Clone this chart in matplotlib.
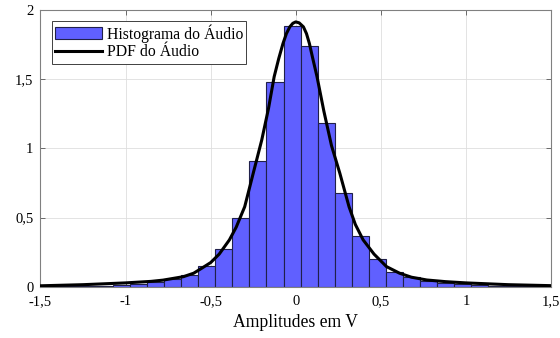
import numpy as np
import matplotlib
matplotlib.use('Agg')
import matplotlib.pyplot as plt
from matplotlib.ticker import FuncFormatter

plt.rcParams['font.family'] = ['Liberation Serif', 'DejaVu Serif']

# histogram bins (centers, width 0.1 V) and densities
bin_centers = [-1.422, -1.322, -1.222, -1.122, -1.022, -0.922, -0.822, -0.722,
               -0.622, -0.522, -0.422, -0.322, -0.222, -0.122, -0.022, 0.078,
               0.178, 0.278, 0.378, 0.478, 0.578, 0.678, 0.778, 0.878, 0.978,
               1.078, 1.178, 1.278, 1.378, 1.478]
bin_heights = [0.002, 0.003, 0.004, 0.006, 0.010, 0.019, 0.032, 0.053,
               0.085, 0.148, 0.270, 0.499, 0.909, 1.483, 1.887, 1.737,
               1.183, 0.677, 0.364, 0.197, 0.108, 0.067, 0.042, 0.027, 0.016,
               0.010, 0.007, 0.005, 0.003, 0.002]
bin_width = 0.1

# PDF curve points
pdf_x = [-1.5, -1.25, -1.0, -0.85, -0.78, -0.66, -0.6, -0.55, -0.5, -0.45,
         -0.39, -0.35, -0.30, -0.25, -0.20, -0.16, -0.127, -0.10, -0.075,
         -0.055, -0.035, -0.017, 0.0, 0.02, 0.045, 0.063, 0.08, 0.10, 0.125,
         0.165, 0.21, 0.259, 0.313, 0.35, 0.396, 0.46, 0.533, 0.61, 0.68,
         0.77, 0.88, 1.0, 1.25, 1.5]
pdf_y = [0.006, 0.014, 0.027, 0.038, 0.047, 0.072, 0.097, 0.135, 0.174, 0.235,
         0.338, 0.43, 0.578, 0.82, 1.06, 1.29, 1.518, 1.65, 1.759,
         1.83, 1.879, 1.905, 1.915, 1.908, 1.879, 1.83, 1.759, 1.65, 1.518,
         1.27, 1.02, 0.82, 0.578, 0.45, 0.338, 0.235, 0.145, 0.097, 0.068,
         0.048, 0.036, 0.027, 0.014, 0.007]

fig = plt.figure(figsize=(5.6, 3.38), dpi=100)
ax = fig.add_axes([0.0723, 0.152, 0.9117, 0.818])

bars = ax.bar(bin_centers, bin_heights, width=bin_width, color='#6060ff',
              edgecolor='#20204a', linewidth=0.8, zorder=2)
line, = ax.plot(pdf_x, pdf_y, color='black', linewidth=2.2, zorder=3)

ax.set_xlim(-1.5, 1.5)
ax.set_ylim(0, 2)
ax.set_xticks([-1.5, -1, -0.5, 0, 0.5, 1, 1.5])
ax.set_yticks([0, 0.5, 1, 1.5, 2])
fmt = FuncFormatter(lambda v, p: ('%g' % v).replace('.', ','))
ax.xaxis.set_major_formatter(fmt)
ax.yaxis.set_major_formatter(fmt)

ax.grid(True, color='#dedede', linewidth=0.6, zorder=0)
ax.set_axisbelow(True)
ax.tick_params(direction='in', length=3.5, width=0.6, color='#555555',
               top=True, right=True, labelsize=10.5, pad=5)
ax.tick_params(axis='x', pad=6)
for s in ax.spines.values():
    s.set_color('#808080')
    s.set_linewidth(0.8)

ax.set_xlabel('Amplitudes em V', fontsize=12.7, labelpad=4)

leg = ax.legend([bars, line], ['Histograma do Áudio', 'PDF do Áudio'],
                loc='upper left', bbox_to_anchor=(0.022, 0.961), borderaxespad=0,
                fontsize=11.3, handlelength=3.0, handleheight=0.8, handletextpad=0.3,
                labelspacing=0.12, borderpad=0.2, fancybox=False, framealpha=1,
                edgecolor='#404040')
leg.get_frame().set_linewidth(0.7)

plt.savefig('out.png', dpi=100)
